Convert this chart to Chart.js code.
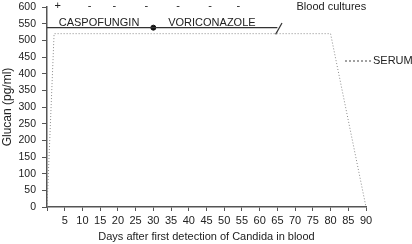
<!DOCTYPE html>
<html>
<head>
<meta charset="utf-8">
<script src="https://cdn.jsdelivr.net/npm/chart.js@4.4.0/dist/chart.umd.min.js"></script>
<style>
  html, body { margin: 0; padding: 0; background: #fff; }
  #wrap { width: 412px; height: 244px; }
</style>
</head>
<body>
<div id="wrap"><canvas id="myChart"></canvas></div>
<script>
// serum glucan (day, pg/ml)
const serumDays = [0, 2, 80, 90];
const serumGlucan = [0, 520, 520, 0];

// antifungal treatment bar
const treatDays = [0, 65];
const treatLevel = [538, 538];
const switchDay = 30;           // caspofungin -> voriconazole
const breakDays = [64.5, 66.3]; // "/" break mark
const breakLevel = [518, 552];

// blood culture results
const cultureDays = [3, 12, 19, 28, 37, 46, 54];
const cultureResults = ['+', '-', '-', '-', '-', '-', '-'];

const drugNames = ['CASPOFUNGIN', 'VORICONAZOLE'];
const drugStart = [3.3, 34.2];
const drugLevel = 553;

const yTicks = [0, 50, 100, 150, 200, 250, 300, 350, 400, 450, 500, 550, 600];

const FONT = "'Liberation Sans', Arial, sans-serif";
const INK = '#222';

function pts(xs, ys) {
  return xs.map((x, i) => ({x: x, y: ys[i]}));
}

const notes = {
  id: 'notes',
  afterDatasetsDraw(chart) {
    const c = chart.ctx;
    const sx = chart.scales.x, sy = chart.scales.y;
    c.save();
    c.fillStyle = INK;
    c.font = '11px ' + FONT;
    c.textBaseline = 'middle';
    c.textAlign = 'center';
    cultureDays.forEach((d, i) => {
      c.fillText(cultureResults[i], sx.getPixelForValue(d), sy.getPixelForValue(603));
    });
    c.textAlign = 'left';
    c.fillText('Blood cultures', sx.getPixelForValue(70.4), sy.getPixelForValue(600));
    drugNames.forEach((n, i) => {
      c.fillText(n, sx.getPixelForValue(drugStart[i]), sy.getPixelForValue(drugLevel));
    });
    // legend
    const a = chart.chartArea;
    const ly = a.top + 54;
    c.strokeStyle = '#444';
    c.lineWidth = 1;
    c.setLineDash([2, 2]);
    c.beginPath();
    c.moveTo(a.right - 21, ly);
    c.lineTo(a.right + 5, ly);
    c.stroke();
    c.setLineDash([]);
    c.fillText('SERUM', a.right + 7, ly);
    c.restore();
  }
};

const ctx = document.getElementById('myChart').getContext('2d');
const myChart = new Chart(ctx, {
  type: 'scatter',
  data: {
    datasets: [
      {
        label: 'SERUM',
        data: pts(serumDays, serumGlucan),
        showLine: true,
        borderColor: '#8a8a8a',
        borderWidth: 1,
        borderDash: [1, 2],
        pointRadius: 0,
        tension: 0
      },
      {
        label: 'treatment',
        data: pts(treatDays, treatLevel),
        showLine: true,
        borderColor: '#333',
        borderWidth: 1.4,
        pointRadius: 0
      },
      {
        label: 'switch',
        data: [{x: switchDay, y: treatLevel[0]}],
        pointRadius: 2.5,
        backgroundColor: '#111',
        borderColor: '#111'
      },
      {
        label: 'break',
        data: pts(breakDays, breakLevel),
        showLine: true,
        borderColor: '#333',
        borderWidth: 1.2,
        pointRadius: 0
      }
    ]
  },
  options: {
    responsive: true,
    maintainAspectRatio: false,
    animation: false,
    layout: { padding: { top: 0, right: 46, left: 0, bottom: 0 } },
    plugins: { legend: { display: false }, tooltip: { enabled: false } },
    scales: {
      x: {
        type: 'linear',
        min: 0, max: 90,
        afterFit: s => { s.height = 37; },
        border: { color: '#555', width: 1.5 },
        grid: { drawOnChartArea: false, drawTicks: true, tickLength: 4, color: '#555' },
        ticks: {
          stepSize: 5,
          padding: 3,
          color: INK,
          font: { family: FONT, size: 11 },
          maxRotation: 0,
          autoSkip: false,
          callback: v => v === 0 ? '' : v
        },
        title: {
          display: true,
          text: 'Days after first detection of Candida in blood',
          color: INK,
          font: { family: FONT, size: 11 },
          padding: { top: 0, bottom: 0 }
        }
      },
      y: {
        min: 0, max: 600,
        afterFit: s => { s.width = 47; s.paddingTop = 7; },
        afterBuildTicks: s => { s.ticks = yTicks.map(v => ({value: v})); },
        border: { color: '#555', width: 1.5 },
        grid: { drawOnChartArea: false, drawTicks: true, tickLength: 5, color: '#555' },
        ticks: {
          padding: 6,
          color: INK,
          font: { family: FONT, size: 10.5 },
          autoSkip: false
        },
        title: {
          display: true,
          text: 'Glucan (pg/ml)',
          color: INK,
          font: { family: FONT, size: 12 },
          padding: { top: 0, bottom: 0 }
        }
      }
    }
  },
  plugins: [notes]
});
</script>
</body>
</html>
